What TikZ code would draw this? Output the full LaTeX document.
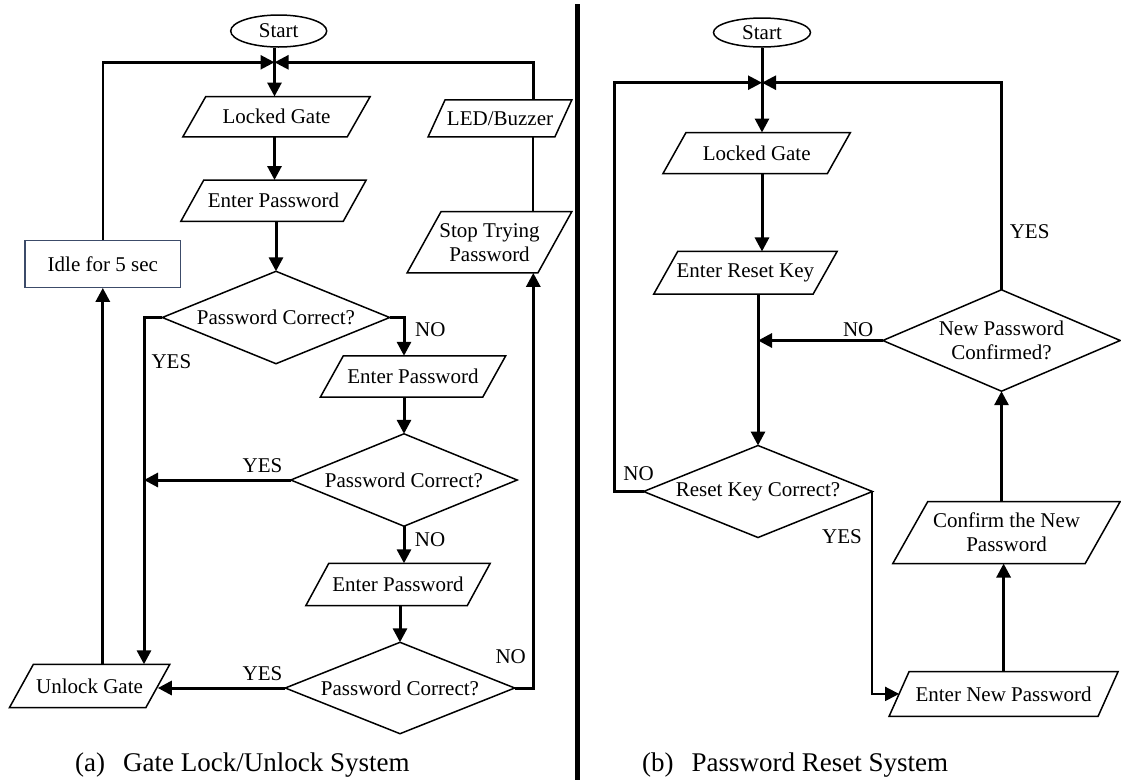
\documentclass[tikz,border=0pt]{standalone}
\usepackage{fontspec}
\setmainfont{Liberation Serif}
\usetikzlibrary{arrows.meta,shapes.geometric}
\definecolor{idleblue}{RGB}{60,75,105}
\newcommand\nodefont{\fontsize{21}{24}\selectfont}
\newcommand\captfont{\fontsize{27}{30}\selectfont}
\newcommand\mypgram[2]{\draw[shp] ([xshift=#2pt]#1.north west) -- (#1.north east) -- ([xshift=-#2pt]#1.south east) -- (#1.south west) -- cycle;}
\newcommand\mydiam[1]{\draw[shp] (#1.north) -- (#1.east) -- (#1.south) -- (#1.west) -- cycle;}
\tikzset{
  box/.style={inner sep=0pt, align=center, font=\nodefont},
  shp/.style={draw=black, line width=1.5pt, line join=miter},
  flow/.style={line width=3pt, -{Triangle[length=14pt,width=14pt]}},
  loopline/.style={line width=2.2pt},
  loopa/.style={line width=2.5pt, -{Triangle[length=14pt,width=14pt]}},
  thinflow/.style={line width=2pt, -{Triangle[length=14pt,width=14pt]}},
  lbl/.style={font=\nodefont, inner sep=0pt},
  capt/.style={font=\captfont, inner sep=0pt, anchor=west},
}
\begin{document}
\begin{tikzpicture}[x=1pt,y=-1pt]
\useasboundingbox (0,0) rectangle (1121,780);

% ---------------- left panel ----------------
\node[box, ellipse, draw, line width=1.5pt, minimum width=96pt, minimum height=32pt] (S1) at (278.7,31) {Start};
\coordinate (J1) at (274.5,62.3);
\coordinate (K1) at (533.3,62.3);
\node[box, minimum width=187pt, minimum height=40pt] (L1) at (276.5,116.7) {Locked Gate};
\node[box, minimum width=185pt, minimum height=41pt] (P1) at (273.5,200.7) {Enter Password};
\node[box, minimum width=227pt, minimum height=92pt] (D1) at (276,317.5) {Password Correct?};
\node[box, minimum width=185pt, minimum height=41pt] (P2) at (413,376.5) {Enter Password};
\node[box, minimum width=226pt, minimum height=92pt] (D2) at (404,480) {Password Correct?};
\node[box, minimum width=184pt, minimum height=42pt] (P3) at (398,584.5) {Enter Password};
\node[box, minimum width=229pt, minimum height=91pt] (D3) at (400,688) {Password Correct?};
\node[box, minimum width=160pt, minimum height=43pt] (U) at (89.6,686) {Unlock Gate};
\node[box, draw=idleblue, line width=1.2pt, minimum width=155.7pt, minimum height=46.6pt] (I) at (102.8,264) {Idle for 5 sec};
\node[box, minimum width=164.4pt, minimum height=61pt] (ST) at (489.5,242.2) {Stop Trying\\Password};
\node[box, minimum width=143.4pt, minimum height=36.7pt] (LED) at (500,118.3) {LED/Buzzer};
\coordinate (Yx) at (144,317.5);
\coordinate (UE) at ([xshift=-12pt]U.east);

\mypgram{L1}{23}
\mypgram{P1}{23}
\mypgram{P2}{23}
\mypgram{P3}{23}
\mypgram{U}{24}
\mypgram{ST}{34}
\mypgram{LED}{17}
\mydiam{D1}
\mydiam{D2}
\mydiam{D3}

\draw[flow] (J1 |- S1.south) -- (J1 |- L1.north);
\draw[loopa] (I.north) -- (I.north |- J1) -- (J1);
\draw[loopa] (K1 |- LED.north) -- (K1) -- (J1);
\draw[loopline] (K1 |- ST.north) -- (K1 |- LED.south);
\draw[flow] (J1 |- L1.south) -- (J1 |- P1.north);
\draw[flow] (D1.north |- P1.south) -- (D1.north);
\draw[flow] (D1.west) -- (Yx) -- (Yx |- U.north);
\draw[flow] (D1.east) -- (D1.east -| D2.north) -- (D2.north |- P2.north);
\draw[flow] (D2.north |- P2.south) -- (D2.north);
\draw[flow] (D2.west) -- (D2.west -| Yx);
\draw[flow] (D2.south) -- (D2.south |- P3.north);
\draw[flow] (D3.north |- P3.south) -- (D3.north);
\draw[flow] (D3.west) -- (D3.west -| UE);
\draw[flow] (I.south |- U.north) -- (I.south);
\draw[flow] (D3.east) -- (D3.east -| K1) -- (K1 |- ST.south);

\node[lbl] (ly1) at (171.4,361.7) {YES};
\node[lbl] (ln1) at (430.4,329.3) {NO};
\node[lbl] (ly2) at (262.5,465.7) {YES};
\node[lbl] (ln2) at (430,540) {NO};
\node[lbl] (ly3) at (262.5,673.3) {YES};
\node[lbl] (ln3) at (510.7,656.7) {NO};

\node[capt] (ca) at (75,765) {(a)\hspace{18pt}Gate Lock/Unlock System};

% ---------------- divider ----------------
\coordinate (dv1) at (577.5,4);
\coordinate (dv2) at (577.5,780);
\draw[line width=5.5pt] (dv1) -- (dv2);

% ---------------- right panel ----------------
\node[box, ellipse, draw, line width=1.5pt, minimum width=97pt, minimum height=29pt] (S2) at (762,32.5) {Start};
\coordinate (J2) at (762,82.7);
\coordinate (K3) at (614.6,82.7);
\node[box, minimum width=187pt, minimum height=40.6pt] (L2) at (756.7,153) {Locked Gate};
\node[box, minimum width=183pt, minimum height=42.3pt] (R) at (745.4,272.8) {Enter Reset Key};
\node[box, minimum width=228.5pt, minimum height=91.6pt] (D4) at (758,491.5) {Reset Key Correct?};
\node[box, minimum width=237pt, minimum height=101pt] (D5) at (1001.5,340.5) {New Password\\Confirmed?};
\node[box, minimum width=227pt, minimum height=61.6pt] (C) at (1006.5,532.5) {Confirm the New\\Password};
\node[box, minimum width=228.6pt, minimum height=44.3pt] (N) at (1003.6,693.9) {Enter New Password};
\coordinate (NW) at ([xshift=10pt]N.west);

\mypgram{L2}{23}
\mypgram{R}{24}
\mypgram{C}{35}
\mypgram{N}{20}
\mydiam{D4}
\mydiam{D5}

\draw[flow] (J2 |- S2.south) -- (J2 |- L2.north);
\draw[flow] (J2 |- L2.south) -- (J2 |- R.north);
\draw[flow] (D4.north |- R.south) -- (D4.north);
\draw[flow] (D5.west) -- (D5.west -| D4.north);
\draw[loopa] (D5.north) -- (D5.north |- J2) -- (J2);
\draw[loopa] (D4.west) -- (D4.west -| K3) -- (K3) -- (J2);
\draw[thinflow] (D4.east) -- (D4.east |- NW) -- (NW);
\draw[flow] (N.north) -- (N.north |- C.south);
\draw[flow] (D5.south |- C.north) -- (D5.south);

\node[lbl] (ry1) at (1029.6,231.7) {YES};
\node[lbl] (rn1) at (858.2,330) {NO};
\node[lbl] (rn2) at (638.6,473.3) {NO};
\node[lbl] (ry2) at (842,536.7) {YES};

\node[capt] (cb) at (642,765) {(b)\hspace{18pt}Password Reset System};
\end{tikzpicture}
\end{document}
